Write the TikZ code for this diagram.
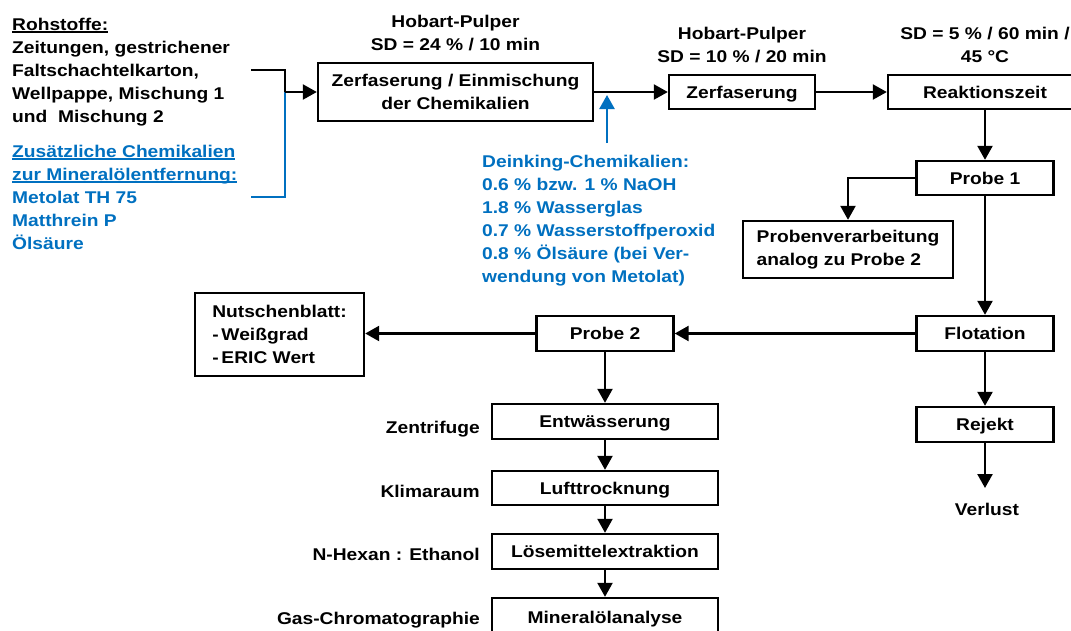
\documentclass[tikz,border=0pt]{standalone}
\usepackage{fontspec}
\setmainfont{Liberation Sans}[FakeStretch=1.13]
\usetikzlibrary{arrows.meta}
\definecolor{myblue}{RGB}{0,112,192}
\newcommand\myul[1]{\setbox0\hbox{#1}\rlap{\rule[-2.6pt]{\wd0}{1.4pt}}\box0}
\tikzset{
  txt/.style={inner sep=0pt, font=\bfseries\fontsize{17}{23}\selectfont},
  box/.style={txt, draw, line width=2.4pt, minimum height=34pt},
  line/.style={line width=2.4pt},
  arr/.style={line, -{Triangle[width=15pt,length=14pt]}},
}
\begin{document}
\begin{tikzpicture}[x=1pt,y=-1pt]
\useasboundingbox (0,0) rectangle (1071,630);
\begin{scope}
\clip (0,0) rectangle (1071,630);
% left texts
\node[txt, anchor=north west, align=left] (roh) at (12,17.6)
  {\myul{Rohstoffe:}\\Zeitungen, gestrichener\\Faltschachtelkarton,\\Wellpappe, Mischung 1\\und\ \ Mischung 2};
\node[txt, anchor=north west, align=left, text=myblue] (zus) at (12,144.6)
  {\myul{Zusätzliche Chemikalien}\\\myul{zur Mineralölentfernung:}\\Metolat TH 75\\Matthrein P\\Ölsäure};
% top boxes
\node[box, minimum width=275pt, minimum height=58pt, align=center] (b1) at (455.5,92)
  {Zerfaserung / Einmischung\\der Chemikalien};
\node[box, minimum width=146pt, text height=12.5pt, text depth=0pt] (b2) at (742,92) {Zerfaserung};
\node[box, minimum width=194pt, text height=12.5pt, text depth=0pt] (b3) at (985,92) {Reaktionszeit};
% labels above
\node[txt, anchor=north, align=center] (h1) at (455.5,14.6) {Hobart-Pulper\\SD = 24 \% / 10 min};
\node[txt, anchor=north, align=center] (h2) at (742,26.6) {Hobart-Pulper\\SD = 10 \% / 20 min};
\node[txt, anchor=north, align=center] (h3) at (985,26.6) {SD = 5 \% / 60 min /\\45 °C};
% deinking
\node[txt, anchor=north west, align=left, text=myblue] (dch) at (482,154.6)
  {Deinking-Chemikalien:\\0.6 \% bzw. 1 \% NaOH\\1.8 \% Wasserglas\\0.7 \% Wasserstoffperoxid\\0.8 \% Ölsäure (bei Ver-\\wendung von Metolat)};
% right column
\node[box, minimum width=137pt, text height=12.5pt, text depth=0pt] (p1) at (985,178) {Probe 1};
\node[box, minimum width=210pt, minimum height=57pt, align=left] (pv) at (848,249.5)
  {Probenverarbeitung\\analog zu Probe 2};
\node[box, minimum width=137pt, minimum height=35pt, text height=12.5pt, text depth=0pt] (fl) at (985,333.5) {Flotation};
\node[box, minimum width=137pt, minimum height=35pt, text height=12.5pt, text depth=0pt] (rj) at (985,424.5) {Rejekt};
\node[txt, anchor=base] (vl) at (987,515) {Verlust};
% middle column
\node[box, minimum width=137pt, minimum height=35pt, text height=12.5pt, text depth=0pt] (p2) at (605,333.5) {Probe 2};
\node[box, minimum width=169pt, minimum height=83pt, align=left] (nb) at (279.5,334.5)
  {Nutschenblatt:\\-\,Weißgrad\\-\,ERIC Wert};
\node[box, minimum width=226pt, minimum height=35pt, text height=12.5pt, text depth=0pt] (e1) at (605,421.5) {Entwässerung};
\node[box, minimum width=226pt, minimum height=34pt, text height=12.5pt, text depth=0pt] (e2) at (605,488) {Lufttrocknung};
\node[box, minimum width=226pt, minimum height=35pt, text height=12.5pt, text depth=0pt] (e3) at (605,551.5) {Lösemittelextraktion};
\node[box, minimum width=226pt, minimum height=38pt, text height=12.5pt, text depth=0pt] (e4) at (605,617) {Mineralölanalyse};
% side labels
\node[txt, anchor=base east] (l1) at (480,433) {Zentrifuge};
\node[txt, anchor=base east] (l2) at (480,497) {Klimaraum};
\node[txt, anchor=base east] (l3) at (480,560) {N-Hexan : Ethanol};
\node[txt, anchor=base east] (l4) at (480,624) {Gas-Chromatographie};
% connectors
\coordinate (rs) at (251,70);
\coordinate (zs) at (251,197);
\coordinate (jn) at (285,92);
\draw[line, myblue] (zs) -| (jn);
\draw[line] (rs) -| (jn);
\draw[arr] (jn) -- (b1.west);
\draw[arr] (b1.east) -- (b2.west);
\coordinate (dk0) at (607,143);
\coordinate (dk1) at (607,95);
\draw[arr, myblue] (dk0) -- (dk1);
\draw[arr] (b2.east) -- (b3.west);
\draw[arr] (p1.north |- b3.south) -- (p1.north);
\draw[arr] (p1.west) -| (pv.north);
\draw[arr] (p1.south) -- (fl.north);
\draw[arr] (fl.south) -- (rj.north);
\coordinate (vt) at (985,488);
\draw[arr] (rj.south) -- (vt);
\draw[arr] (fl.west) -- (p2.east);
\draw[arr] (p2.west) -- (nb.east |- p2.west);
\draw[arr] (p2.south) -- (e1.north);
\draw[arr] (e1.south) -- (e2.north);
\draw[arr] (e2.south) -- (e3.north);
\draw[arr] (e3.south) -- (e4.north);
\end{scope}
\end{tikzpicture}
\end{document}
